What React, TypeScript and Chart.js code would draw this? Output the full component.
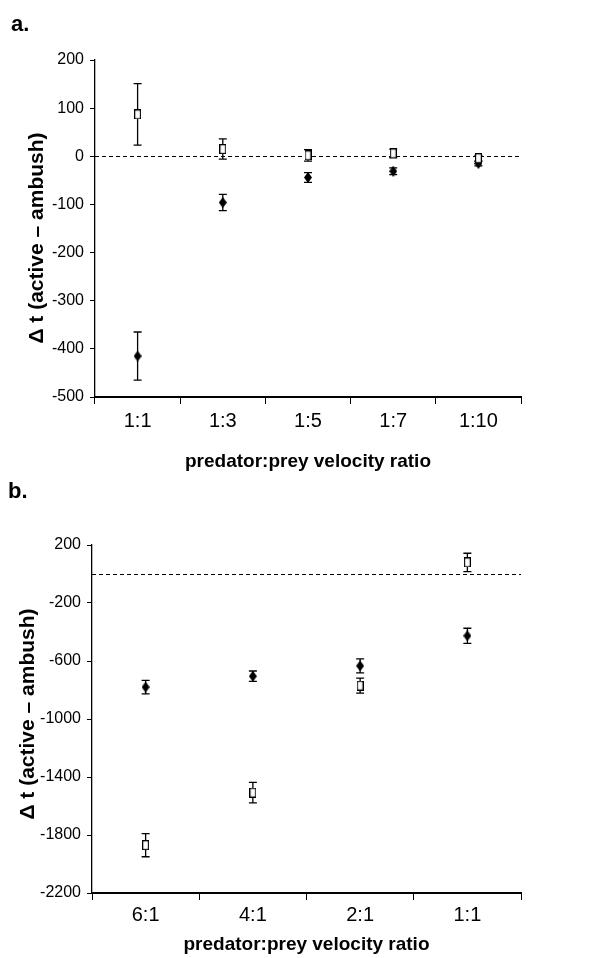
import React, { useEffect, useRef } from 'react';
import { Chart, registerables } from 'chart.js';

Chart.register(...registerables);

// ---------- Panel a data ----------
const CATS_A = ['1:1', '1:3', '1:5', '1:7', '1:10'];
const OPEN_A = [87, 15, 2, 6, -4];
const OPEN_A_ERR = [64, 21, 12, 9, 6];
const FILLED_A = [-415, -96, -44, -31, -15];
const FILLED_A_ERR = [50, 17, 10, 7, 5];
const Y_A_MIN = -500;
const Y_A_MAX = 200;
const Y_A_STEP = 100;

// ---------- Panel b data ----------
const CATS_B = ['6:1', '4:1', '2:1', '1:1'];
const OPEN_B = [-1870, -1508, -770, 80];
const OPEN_B_ERR = [80, 71, 52, 63];
const FILLED_B = [-780, -705, -634, -426];
const FILLED_B_ERR = [47, 36, 48, 52];
const Y_B_MIN = -2200;
const Y_B_MAX = 200;
const Y_B_STEP = 400;

const ZERO_LINE = 0;
const X_TITLE = 'predator:prey velocity ratio';
const Y_TITLE = 'Δ t (active – ambush)';

const FONT = "'Liberation Sans', Arial, Helvetica, sans-serif";

function makeOpenRect(w: number, h: number) {
  const c = document.createElement('canvas');
  c.width = w;
  c.height = h;
  const ctx = c.getContext('2d')!;
  ctx.fillStyle = '#fff';
  ctx.fillRect(0, 0, w, h);
  ctx.strokeStyle = '#000';
  ctx.lineWidth = 1.2;
  ctx.strokeRect(0.6, 0.6, w - 1.2, h - 1.2);
  return c;
}

function makeDiamond(w: number, h: number) {
  const c = document.createElement('canvas');
  c.width = w;
  c.height = h;
  const ctx = c.getContext('2d')!;
  ctx.fillStyle = '#000';
  ctx.beginPath();
  ctx.moveTo(w / 2, 0);
  ctx.lineTo(w, h / 2);
  ctx.lineTo(w / 2, h);
  ctx.lineTo(0, h / 2);
  ctx.closePath();
  ctx.fill();
  return c;
}

const errorBarPlugin = {
  id: 'errorBars',
  beforeDatasetsDraw(chart: any) {
    const { ctx } = chart;
    const ys = chart.scales.y;
    const ca = chart.chartArea;
    // zero reference line
    ctx.save();
    ctx.strokeStyle = '#000';
    ctx.lineWidth = 1;
    ctx.setLineDash([4, 3]);
    const zy = Math.round(ys.getPixelForValue(ZERO_LINE)) + 0.5;
    ctx.beginPath();
    ctx.moveTo(ca.left, zy);
    ctx.lineTo(ca.right, zy);
    ctx.stroke();
    ctx.restore();

    chart.data.datasets.forEach((ds: any, i: number) => {
      const meta = chart.getDatasetMeta(i);
      const errs = ds.errors;
      if (!errs) return;
      ctx.save();
      ctx.strokeStyle = '#000';
      ctx.lineWidth = 1.3;
      meta.data.forEach((pt: any, j: number) => {
        const v = ds.data[j];
        const e = errs[j];
        const x = pt.x;
        const yt = ys.getPixelForValue(v + e);
        const yb = ys.getPixelForValue(v - e);
        ctx.beginPath();
        ctx.moveTo(x, yt);
        ctx.lineTo(x, yb);
        ctx.moveTo(x - 4, yt);
        ctx.lineTo(x + 4, yt);
        ctx.moveTo(x - 4, yb);
        ctx.lineTo(x + 4, yb);
        ctx.stroke();
      });
      ctx.restore();
    });
  },
};

const panelTextPlugin = {
  id: 'panelText',
  afterDraw(chart: any, _args: any, opts: any) {
    const { ctx } = chart;
    ctx.save();
    ctx.fillStyle = '#000';
    ctx.font = `bold 22px ${FONT}`;
    ctx.textBaseline = 'alphabetic';
    ctx.textAlign = 'left';
    ctx.fillText(opts.text, opts.x, opts.y);
    ctx.restore();

    // vertical axis title
    ctx.save();
    ctx.fillStyle = '#000';
    ctx.font = `bold 21px ${FONT}`;
    ctx.textBaseline = 'middle';
    ctx.textAlign = 'center';
    ctx.translate(opts.yTitleX, opts.yTitleY);
    ctx.rotate(-Math.PI / 2);
    ctx.fillText(Y_TITLE, 0, 0);
    ctx.restore();
  },
};

interface PanelCfg {
  cats: string[];
  open: number[];
  openErr: number[];
  filled: number[];
  filledErr: number[];
  yMin: number;
  yMax: number;
  yStep: number;
  label: string;
  labelX: number;
  labelY: number;
  yTitleX: number;
  yTitleY: number;
  padTop: number;
  padRight: number;
  yWidth: number;
  xHeight: number;
  xTickPad: number;
  xTitlePadBottom: number;
}

function buildChart(canvas: HTMLCanvasElement, p: PanelCfg) {
  const openStyle = makeOpenRect(7, 10);
  const diamondStyle = makeDiamond(8, 11);
  return new Chart(canvas, {
    type: 'line',
    data: {
      labels: p.cats,
      datasets: [
        {
          label: 'open',
          data: p.open,
          errors: p.openErr,
          showLine: false,
          pointStyle: openStyle,
          pointRadius: 5,
          borderColor: '#000',
          backgroundColor: '#fff',
        } as any,
        {
          label: 'filled',
          data: p.filled,
          errors: p.filledErr,
          showLine: false,
          pointStyle: diamondStyle,
          pointRadius: 5,
          borderColor: '#000',
          backgroundColor: '#000',
        } as any,
      ],
    },
    options: {
      responsive: false,
      animation: false,
      layout: { padding: { top: p.padTop, right: p.padRight, left: 0, bottom: 0 } },
      plugins: {
        legend: { display: false },
        tooltip: { enabled: false },
        panelText: { text: p.label, x: p.labelX, y: p.labelY, yTitleX: p.yTitleX, yTitleY: p.yTitleY },
      } as any,
      scales: {
        x: {
          type: 'category',
          offset: true,
          grid: {
            offset: true,
            drawOnChartArea: false,
            drawTicks: true,
            tickLength: 7,
            color: '#000',
            lineWidth: 1,
          },
          border: { display: true, color: '#000', width: 2 },
          ticks: {
            color: '#000',
            font: { family: FONT, size: 20 },
            padding: p.xTickPad,
            maxRotation: 0,
            autoSkip: false,
          },
          title: {
            display: true,
            text: X_TITLE,
            color: '#000',
            font: { family: FONT, size: 19, weight: 'bold' },
            padding: { top: 0, bottom: p.xTitlePadBottom },
          },
          afterFit: (s: any) => {
            s.height = p.xHeight;
          },
        },
        y: {
          min: p.yMin,
          max: p.yMax,
          ticks: {
            stepSize: p.yStep,
            color: '#000',
            font: { family: FONT, size: 16 },
            padding: 6,
            callback: (v: any) => String(v),
          },
          grid: {
            drawOnChartArea: false,
            drawTicks: true,
            tickLength: 5,
            color: '#000',
            lineWidth: 1,
          },
          border: { display: true, color: '#000', width: 1.3 },
          title: { display: false },
          afterFit: (s: any) => {
            s.width = p.yWidth;
          },
        },
      } as any,
    },
    plugins: [errorBarPlugin, panelTextPlugin],
  });
}

export default function App() {
  const refA = useRef<HTMLCanvasElement>(null);
  const refB = useRef<HTMLCanvasElement>(null);

  useEffect(() => {
    const a = buildChart(refA.current!, {
      cats: CATS_A,
      open: OPEN_A,
      openErr: OPEN_A_ERR,
      filled: FILLED_A,
      filledErr: FILLED_A_ERR,
      yMin: Y_A_MIN,
      yMax: Y_A_MAX,
      yStep: Y_A_STEP,
      label: 'a.',
      labelX: 11,
      labelY: 31,
      yTitleX: 37,
      yTitleY: 238,
      padTop: 60,
      padRight: 86,
      yWidth: 95,
      xHeight: 83,
      xTickPad: 5,
      xTitlePadBottom: 7,
    });
    const b = buildChart(refB.current!, {
      cats: CATS_B,
      open: OPEN_B,
      openErr: OPEN_B_ERR,
      filled: FILLED_B,
      filledErr: FILLED_B_ERR,
      yMin: Y_B_MIN,
      yMax: Y_B_MAX,
      yStep: Y_B_STEP,
      label: 'b.',
      labelX: 8,
      labelY: 18,
      yTitleX: 28,
      yTitleY: 234,
      padTop: 65,
      padRight: 86,
      yWidth: 92,
      xHeight: 65,
      xTickPad: 3,
      xTitlePadBottom: 2,
    });
    return () => {
      a.destroy();
      b.destroy();
    };
  }, []);

  return (
    <div style={{ position: 'absolute', left: 0, top: 0, width: 607, height: 958, background: '#fff' }}>
      <canvas ref={refA} width={607} height={480} style={{ position: 'absolute', left: 0, top: 0, width: 607, height: 480 }} />
      <canvas ref={refB} width={607} height={478} style={{ position: 'absolute', left: 0, top: 480, width: 607, height: 478 }} />
    </div>
  );
}
